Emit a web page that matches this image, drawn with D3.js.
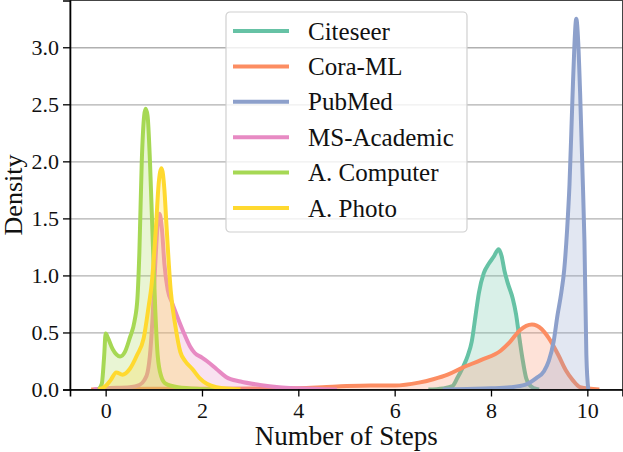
<!DOCTYPE html>
<html>
<head>
<meta charset="utf-8">
<title>Number of Steps density</title>
<script src="https://d3js.org/d3.v7.min.js"></script>
<style>
html,body{margin:0;padding:0;background:#fff;}
svg text{font-family:"Liberation Serif","Times New Roman",serif;fill:#111;}
</style>
</head>
<body>
<script>
// series names and colours (Set2)
var names=["Citeseer","Cora-ML","PubMed","MS-Academic","A. Computer","A. Photo"];
var colors=["#66c2a5","#fc8d62","#8da0cb","#e78ac3","#a6d854","#ffd92f"];

// density curves: [steps, density]
var citeseer=[[6.7,0],[7.0,0.01],[7.2,0.03],[7.3,0.1],[7.41,0.19],[7.52,0.3],[7.6,0.42],[7.68,0.65],[7.75,0.85],[7.85,1.02],[7.95,1.1],[8.05,1.16],[8.16,1.23],[8.22,1.17],[8.28,1.04],[8.35,0.93],[8.45,0.8],[8.52,0.66],[8.58,0.48],[8.65,0.28],[8.73,0.1],[8.8,0.04],[8.9,0.01],[9.0,0]];
var coraml=[[-0.3,0],[0,0.005],[1,0.006],[2,0.006],[3,0.008],[4,0.012],[4.5,0.02],[5,0.03],[5.5,0.035],[6,0.035],[6.5,0.06],[6.8,0.09],[7.1,0.13],[7.4,0.19],[7.8,0.26],[8.2,0.34],[8.4,0.42],[8.6,0.52],[8.85,0.57],[9.05,0.53],[9.2,0.45],[9.4,0.3],[9.55,0.17],[9.7,0.08],[9.85,0.02],[10.25,0]];
var pubmed=[[7.0,0],[7.5,0.005],[8.0,0.01],[8.4,0.02],[8.7,0.04],[8.8,0.06],[8.94,0.1],[9.1,0.16],[9.2,0.25],[9.3,0.42],[9.38,0.65],[9.46,0.85],[9.52,1.05],[9.58,1.4],[9.63,1.8],[9.69,2.54],[9.73,3.0],[9.77,3.25],[9.81,3.05],[9.85,2.6],[9.9,1.9],[9.94,1.3],[9.98,0.3],[10.02,0]];
var msacademic=[[-0.25,0],[0,0.01],[0.5,0.02],[0.7,0.04],[0.8,0.08],[0.87,0.15],[0.93,0.35],[0.97,0.6],[1.03,1.1],[1.08,1.45],[1.12,1.54],[1.17,1.4],[1.22,1.1],[1.29,0.87],[1.38,0.76],[1.45,0.68],[1.6,0.52],[1.75,0.38],[1.85,0.32],[2.0,0.28],[2.1,0.25],[2.3,0.18],[2.5,0.11],[2.8,0.07],[3.2,0.04],[3.6,0.02],[4.0,0.01],[4.8,0]];
var acomputer=[[-0.15,0],[-0.08,0.05],[-0.03,0.3],[0,0.49],[0.05,0.45],[0.15,0.35],[0.3,0.29],[0.4,0.33],[0.5,0.45],[0.6,0.6],[0.66,0.8],[0.7,1.2],[0.75,2.0],[0.8,2.4],[0.83,2.46],[0.87,2.4],[0.92,2.0],[0.97,1.4],[1.03,0.7],[1.08,0.3],[1.15,0.12],[1.25,0.05],[1.5,0.02],[2.0,0.005],[2.3,0]];
var aphoto=[[-0.15,0],[0,0.03],[0.1,0.08],[0.22,0.15],[0.35,0.13],[0.5,0.18],[0.65,0.3],[0.79,0.45],[0.9,0.75],[0.95,0.9],[1.05,1.46],[1.1,1.8],[1.16,1.94],[1.22,1.75],[1.26,1.46],[1.35,0.87],[1.45,0.55],[1.55,0.33],[1.65,0.25],[1.8,0.18],[1.95,0.1],[2.1,0.05],[2.3,0.02],[2.8,0]];
var series=[citeseer,coraml,pubmed,msacademic,acomputer,aphoto];

var xTicks=[0,2,4,6,8,10];
var yTicks=[0,0.5,1,1.5,2,2.5,3];

var W=623,H=452;
var m={left:70,right:0.5,top:0.5,bottom:62.5};
var iw=W-m.left-m.right, ih=H-m.top-m.bottom;

var svg=d3.select("body").append("svg")
	.attr("width",W).attr("height",H);

var x=d3.scaleLinear().domain([-0.74,10.73]).range([0,iw]);
var y=d3.scaleLinear().domain([0,3.41]).range([ih,0]);

var g=svg.append("g").attr("transform","translate("+m.left+","+m.top+")");

// grid
g.append("g")
	.call(d3.axisLeft(y).tickValues(yTicks).tickSize(-iw).tickFormat(""))
	.call(s=>s.select(".domain").remove())
	.selectAll("line").attr("stroke","#b0b0b0").attr("stroke-width",1.3);

var area=d3.area().x(d=>x(d[0])).y0(y(0)).y1(d=>y(d[1])).curve(d3.curveMonotoneX);
var line=d3.line().x(d=>x(d[0])).y(d=>y(d[1])).curve(d3.curveMonotoneX);

g.append("clipPath").attr("id","clip").append("rect").attr("width",iw).attr("height",ih);
var plot=g.append("g").attr("clip-path","url(#clip)");

series.forEach(function(s,i){
	plot.append("path").datum(s).attr("d",area)
		.attr("fill",colors[i]).attr("fill-opacity",0.25);
	plot.append("path").datum(s).attr("d",line)
		.attr("fill","none").attr("stroke",colors[i])
		.attr("stroke-width",4).attr("stroke-linejoin","round");
});

// frame
g.append("rect").attr("width",iw).attr("height",ih)
	.attr("fill","none").attr("stroke","#444").attr("stroke-width",1);

var xAxis=g.append("g").attr("transform","translate(0,"+ih+")")
	.call(d3.axisBottom(x).tickValues(xTicks).tickSize(7).tickPadding(6).tickFormat(d3.format("d")));
var yAxis=g.append("g")
	.call(d3.axisLeft(y).tickValues(yTicks).tickSize(7).tickPadding(4).tickFormat(d3.format(".1f")));
[xAxis,yAxis].forEach(function(a){
	a.select(".domain").attr("stroke","#000").attr("stroke-width",1.6);
	a.selectAll(".tick line").attr("stroke","#000").attr("stroke-width",1.3);
	a.selectAll(".tick text").attr("font-size",22).attr("fill","#111")
		.attr("font-family","Liberation Serif, serif");
});

svg.append("text").attr("x",m.left+iw/2).attr("y",445)
	.attr("text-anchor","middle").attr("font-size",27).text("Number of Steps");
svg.append("text").attr("transform","translate(22,"+(m.top+ih/2)+") rotate(-90)")
	.attr("text-anchor","middle").attr("font-size",26).text("Density");

// legend
var lg=svg.append("g").attr("transform","translate(226,12)");
lg.append("rect").attr("width",241).attr("height",220).attr("rx",4)
	.attr("fill","#fff").attr("fill-opacity",0.8)
	.attr("stroke","#d0d0d0").attr("stroke-width",1.2);
names.forEach(function(n,i){
	var yy=19+i*35.4;
	lg.append("line").attr("x1",7).attr("x2",63).attr("y1",yy).attr("y2",yy)
		.attr("stroke",colors[i]).attr("stroke-width",4);
	lg.append("text").attr("x",82).attr("y",yy+8.5).attr("font-size",25).text(n);
});
</script>
</body>
</html>
